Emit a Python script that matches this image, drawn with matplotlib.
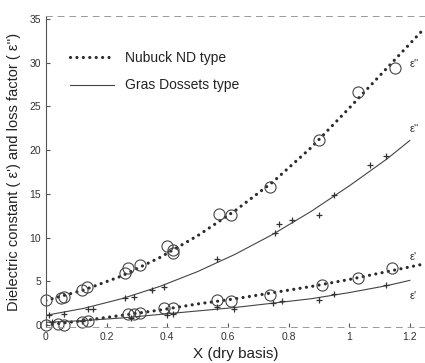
import numpy as np
import matplotlib
matplotlib.use("Agg")
import matplotlib.pyplot as plt

plt.rcParams['font.family'] = ['Liberation Sans', 'DejaVu Sans']

# measured points (X dry basis)
nub_loss_x = [0, 0.05, 0.06, 0.12, 0.135, 0.26, 0.27, 0.31, 0.40, 0.42, 0.42, 0.57, 0.61, 0.74, 0.90, 1.03, 1.15]
nub_loss_y = [2.9, 3.1, 3.2, 4.0, 4.3, 5.9, 6.5, 6.9, 9.0, 8.6, 8.2, 12.7, 12.6, 15.8, 21.2, 26.6, 29.4]
nub_const_x = [0, 0.04, 0.06, 0.12, 0.14, 0.27, 0.29, 0.31, 0.39, 0.42, 0.565, 0.61, 0.74, 0.91, 1.03, 1.14]
nub_const_y = [0.0, 0.1, 0.0, 0.35, 0.5, 1.25, 1.25, 1.4, 1.9, 1.9, 2.9, 2.7, 3.4, 4.6, 5.4, 6.5]

gras_loss_x = [0.01, 0.06, 0.14, 0.155, 0.26, 0.29, 0.35, 0.39, 0.565, 0.755, 0.77, 0.81, 0.90, 0.95, 1.07, 1.12]
gras_loss_y = [1.1, 1.25, 1.8, 1.8, 3.1, 3.2, 4.0, 4.3, 7.5, 10.5, 11.5, 12.0, 12.6, 14.9, 18.3, 19.3]
gras_const_x = [0.02, 0.12, 0.28, 0.40, 0.42, 0.565, 0.62, 0.75, 0.78, 0.90, 0.95, 1.12]
gras_const_y = [0.3, 0.4, 0.8, 1.1, 1.2, 2.0, 1.8, 2.5, 2.7, 2.9, 3.5, 4.6]

# fitted curves
fit_x = [0, 0.125, 0.25, 0.375, 0.5, 0.625, 0.75, 0.875, 1.0, 1.125, 1.25]
nub_loss_fit = [2.8, 4.0, 5.6, 7.7, 10.2, 13.1, 16.4, 20.3, 24.8, 29.4, 34.0]
nub_const_fit = [0.0, 0.5, 1.1, 1.7, 2.4, 3.0, 3.7, 4.4, 5.2, 6.1, 7.0]
gfit_x = [0, 0.125, 0.25, 0.375, 0.5, 0.625, 0.75, 0.875, 1.0, 1.125, 1.2]
gras_loss_fit = [1.1, 1.9, 3.0, 4.4, 6.1, 8.1, 10.4, 13.0, 15.9, 19.0, 21.1]
gras_const_fit = [0.3, 0.5, 0.8, 1.2, 1.6, 2.0, 2.5, 3.0, 3.7, 4.5, 5.1]

ink = "#2b2b2b"
dotted = (0, (0.01, 2.0))

fig = plt.figure(figsize=(4.25, 3.63), dpi=100)
ax = fig.add_axes([0.108, 0.10, 0.892, 0.855])

# Nubuck ND type (dotted fits + open circles)
ax.plot(fit_x, nub_loss_fit, linestyle=dotted, lw=2.3, color=ink,
        dash_capstyle='round', label="Nubuck ND type")
ax.plot(fit_x, nub_const_fit, linestyle=dotted, lw=2.3, color=ink,
        dash_capstyle='round')
ax.plot(nub_loss_x, nub_loss_y, 'o', mfc='none', mec='#444444', mew=0.8, ms=8, clip_on=False)
ax.plot(nub_const_x, nub_const_y, 'o', mfc='none', mec='#444444', mew=0.8, ms=8, clip_on=False)

# Gras Dossets type (thin lines + crosses)
ax.plot(gfit_x, gras_loss_fit, '-', lw=0.8, color='#444444', label="Gras Dossets type")
ax.plot(gfit_x, gras_const_fit, '-', lw=0.8, color='#444444')
ax.plot(gras_loss_x, gras_loss_y, '+', color='#333333', ms=5, mew=0.9)
ax.plot(gras_const_x, gras_const_y, '+', color='#333333', ms=4.5, mew=0.9)

# curve labels
for ty, t in [(29.8, "ε''"), (22.4, "ε''"), (7.8, "ε'"), (3.3, "ε'")]:
    ax.text(1.2, ty, t, fontsize=8, color='#333333', ha='left', va='center')

ax.set_xlim(0, 1.25)
ax.set_ylim(-0.2, 35.3)
ax.set_xticks([0, 0.2, 0.4, 0.6, 0.8, 1.0, 1.2])
ax.set_xticklabels(["0", "0.2", "0.4", "0.6", "0.8", "1", "1.2"])
ax.set_yticks([0, 5, 10, 15, 20, 25, 30, 35])
ax.tick_params(direction='in', length=3, width=0.8, labelsize=7.5, colors='#555555',
               labelcolor='#333333', top=False, right=False)

for s in ['top', 'bottom']:
    ax.spines[s].set_linestyle((0, (6, 6)))
    ax.spines[s].set_color('#999999')
    ax.spines[s].set_linewidth(0.7)
ax.spines['right'].set_visible(False)
ax.spines['left'].set_color('#555555')
ax.spines['left'].set_linewidth(0.8)

ax.set_xlabel("X (dry basis)", fontsize=11, color='#222222', labelpad=4)
ax.set_ylabel("Dielectric constant ( ε') and loss factor ( ε'')", fontsize=10.5,
              color='#222222', labelpad=6)

ax.legend(loc='upper left', bbox_to_anchor=(0.03, 0.93), frameon=False,
          fontsize=10, handlelength=3.2, labelspacing=1.0, labelcolor='#222222')

fig.savefig("out.png", dpi=100)
